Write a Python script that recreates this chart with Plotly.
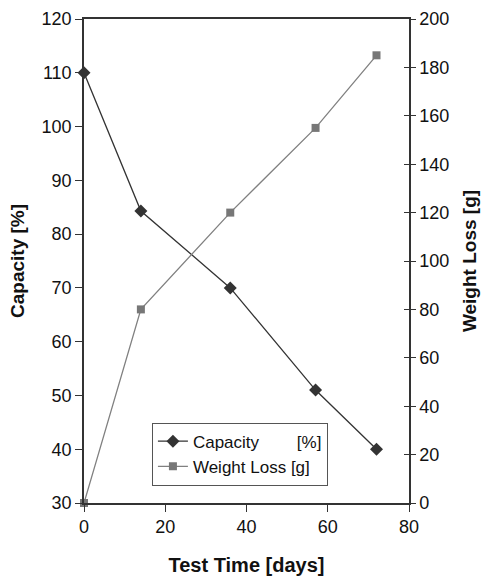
import plotly.graph_objects as go

days = [0, 14, 36, 57, 72]
capacity = [110, 84.3, 70, 51, 40]
weight_loss = [0, 80, 120, 155, 185]

x_ticks = [0, 20, 40, 60, 80]
cap_ticks = [30, 40, 50, 60, 70, 80, 90, 100, 110, 120]
wl_ticks = [0, 20, 40, 60, 80, 100, 120, 140, 160, 180, 200]

FONT = "Liberation Sans, Arial, sans-serif"
AX = "#333333"

fig = go.Figure()
fig.add_trace(go.Scatter(
    x=days, y=capacity, mode="lines+markers",
    name="Capacity" + "&nbsp;" * 8 + "[%]",
    line=dict(color="#333333", width=1.3),
    marker=dict(symbol="diamond", size=10, color="#333333"),
    yaxis="y", cliponaxis=False,
))
fig.add_trace(go.Scatter(
    x=days, y=weight_loss, mode="lines+markers",
    name="Weight Loss [g]",
    line=dict(color="#808080", width=1.3),
    marker=dict(symbol="square", size=8, color="#777777"),
    yaxis="y2", cliponaxis=False,
))
# helper trace to draw inside part of right-axis ticks (cross ticks)
fig.add_trace(go.Scatter(x=[None], y=[None], yaxis="y3", showlegend=False, hoverinfo="skip"))

fig.update_layout(
    width=484, height=578,
    margin=dict(l=84, r=75, t=19, b=75, autoexpand=False),
    paper_bgcolor="white", plot_bgcolor="white",
    font=dict(family=FONT, size=18, color="#111111"),
    showlegend=True,
    legend=dict(
        x=0.209, y=0.166, xanchor="left", yanchor="top",
        bgcolor="white", bordercolor="#555555", borderwidth=1,
        font=dict(family=FONT, size=17, color="#111111"),
        tracegroupgap=0, itemwidth=30,
    ),
    xaxis=dict(
        range=[0, 80], tickvals=x_ticks, ticktext=[str(v) for v in x_ticks],
        showgrid=False, zeroline=False, automargin=False,
        showline=True, linecolor=AX, linewidth=1.5, mirror=True,
        ticks="outside", ticklen=7, tickcolor=AX,
        title=dict(text="<b>Test Time [days]</b>", font=dict(size=20), standoff=22),
    ),
    yaxis=dict(
        range=[30, 120], tickvals=cap_ticks, ticktext=[str(v) for v in cap_ticks],
        showgrid=False, zeroline=False, automargin=False,
        showline=True, linecolor=AX, linewidth=1.5,
        ticks="outside", ticklen=7, tickcolor=AX,
        title=dict(text="<b>Capacity [%]</b>", font=dict(size=19), standoff=12),
    ),
    yaxis2=dict(
        range=[0, 200], tickvals=wl_ticks, ticktext=[str(v) for v in wl_ticks],
        overlaying="y", side="right", automargin=False,
        showgrid=False, zeroline=False,
        showline=True, linecolor=AX, linewidth=1.5,
        ticks="outside", ticklen=5, tickcolor=AX,
        title=dict(text="<b>Weight Loss [g]</b>", font=dict(size=19), standoff=14),
    ),
    yaxis3=dict(
        range=[0, 200], tickvals=wl_ticks, overlaying="y", side="right",
        showgrid=False, zeroline=False, showline=False, automargin=False,
        ticks="inside", ticklen=5, tickcolor=AX, showticklabels=False,
    ),
)

fig.write_html("out.html")
